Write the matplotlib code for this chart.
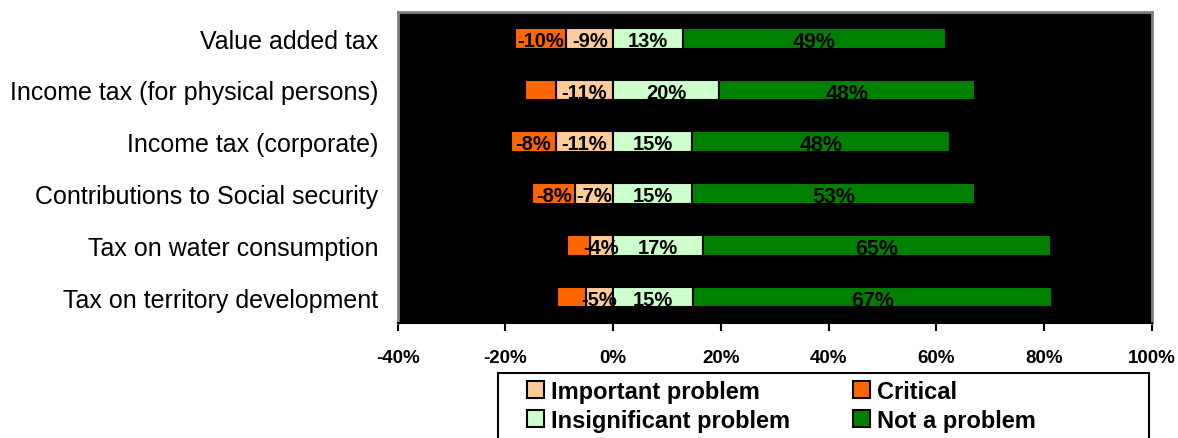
import numpy as np
import matplotlib
matplotlib.use("Agg")
from matplotlib import pyplot as plt
from matplotlib.patches import Patch, Rectangle

plt.rcParams['font.family'] = ['Liberation Sans', 'DejaVu Sans']

taxes = ["Value added tax",
         "Income tax (for physical persons)",
         "Income tax (corporate)",
         "Contributions to Social security",
         "Tax on water consumption",
         "Tax on territory development"]

# percentages (left side drawn as negatives)
critical = [9.6, 5.7, 8.3, 8.0, 4.2, 5.4]
important = [8.7, 10.7, 10.7, 7.0, 4.4, 5.1]
insignificant = [12.9, 19.6, 14.6, 14.6, 16.6, 14.8]
not_problem = [48.9, 47.6, 48.0, 52.6, 64.6, 66.7]
show_critical = [True, False, True, True, False, False]

c_crit = "#FF6600"
c_imp = "#FFCC99"
c_insig = "#CCFFCC"
c_not = "#008000"

fig = plt.figure(figsize=(11.78, 4.39), dpi=100)
ax = fig.add_axes([397.7/1178, 1-324/439, (1152-397.7)/1178, (324-13.3)/439])
ax.set_facecolor("black")

y = np.arange(len(taxes))
imp = -np.array(important)
crit = -np.array(critical)
ins = np.array(insignificant)
nop = np.array(not_problem)
h = 0.4
kw = dict(height=h, edgecolor="black", linewidth=1.5)

ax.barh(y, imp, color=c_imp, **kw)
ax.barh(y, crit, left=imp, color=c_crit, **kw)
ax.barh(y, ins, color=c_insig, **kw)
ax.barh(y, nop, left=ins, color=c_not, **kw)

lab = dict(ha="center", va="center", fontsize=14.5, fontweight="bold", color="black")
for i in range(len(taxes)):
    yy = y[i] + 0.04
    if show_critical[i]:
        ax.text(imp[i] + crit[i] / 2, yy, "%d%%" % round(crit[i]), **lab)
    ax.text(imp[i] / 2, yy, "%d%%" % round(imp[i]), **lab)
    ax.text(ins[i] / 2, yy, "%d%%" % round(ins[i]), **lab)
    ax.text(ins[i] + nop[i] / 2, yy + 0.02, "%d%%" % round(nop[i]),
            ha="center", va="center", fontsize=15.5, fontweight="bold", color="black")

ax.set_xlim(-40, 100)
ax.set_ylim(5.5, -0.5)
ax.set_xticks(np.arange(-40, 101, 20))
ax.set_xticklabels(["%d%%" % v for v in range(-40, 101, 20)], fontsize=13.5, fontweight="bold")
ax.tick_params(axis="x", direction="out", length=6, width=1.5, color="black", pad=13)
ax.set_yticks(y)
ax.set_yticklabels(taxes, fontsize=18)
ax.tick_params(axis="y", length=0, pad=14)

for s in ["top", "left", "right"]:
    ax.spines[s].set_color("#808080")
    ax.spines[s].set_linewidth(2)
ax.spines["bottom"].set_color("black")
ax.spines["bottom"].set_linewidth(1.5)

# legend box, cut off by the lower edge of the image
fig.add_artist(Rectangle((498/1178, -0.1), 651/1178, 1-374/439+0.1,
                         transform=fig.transFigure, fill=False,
                         edgecolor="black", linewidth=1.5))

handles = [Patch(facecolor=c_imp, edgecolor="black", linewidth=1.5),
           Patch(facecolor=c_insig, edgecolor="black", linewidth=1.5),
           Patch(facecolor=c_crit, edgecolor="black", linewidth=1.5),
           Patch(facecolor=c_not, edgecolor="black", linewidth=1.5)]
names = ["Important problem", "Insignificant problem", "Critical", "Not a problem"]
leg = fig.legend(handles, names, loc="upper left", ncol=2,
                 bbox_to_anchor=(527/1178, 1-381/439),
                 borderaxespad=0, borderpad=0, frameon=False,
                 prop=dict(size=17, weight="bold"), handlelength=0.7,
                 handleheight=0.7, handletextpad=0.3, labelspacing=0.25,
                 columnspacing=2.7)

fig.savefig("out.png", dpi=100)
